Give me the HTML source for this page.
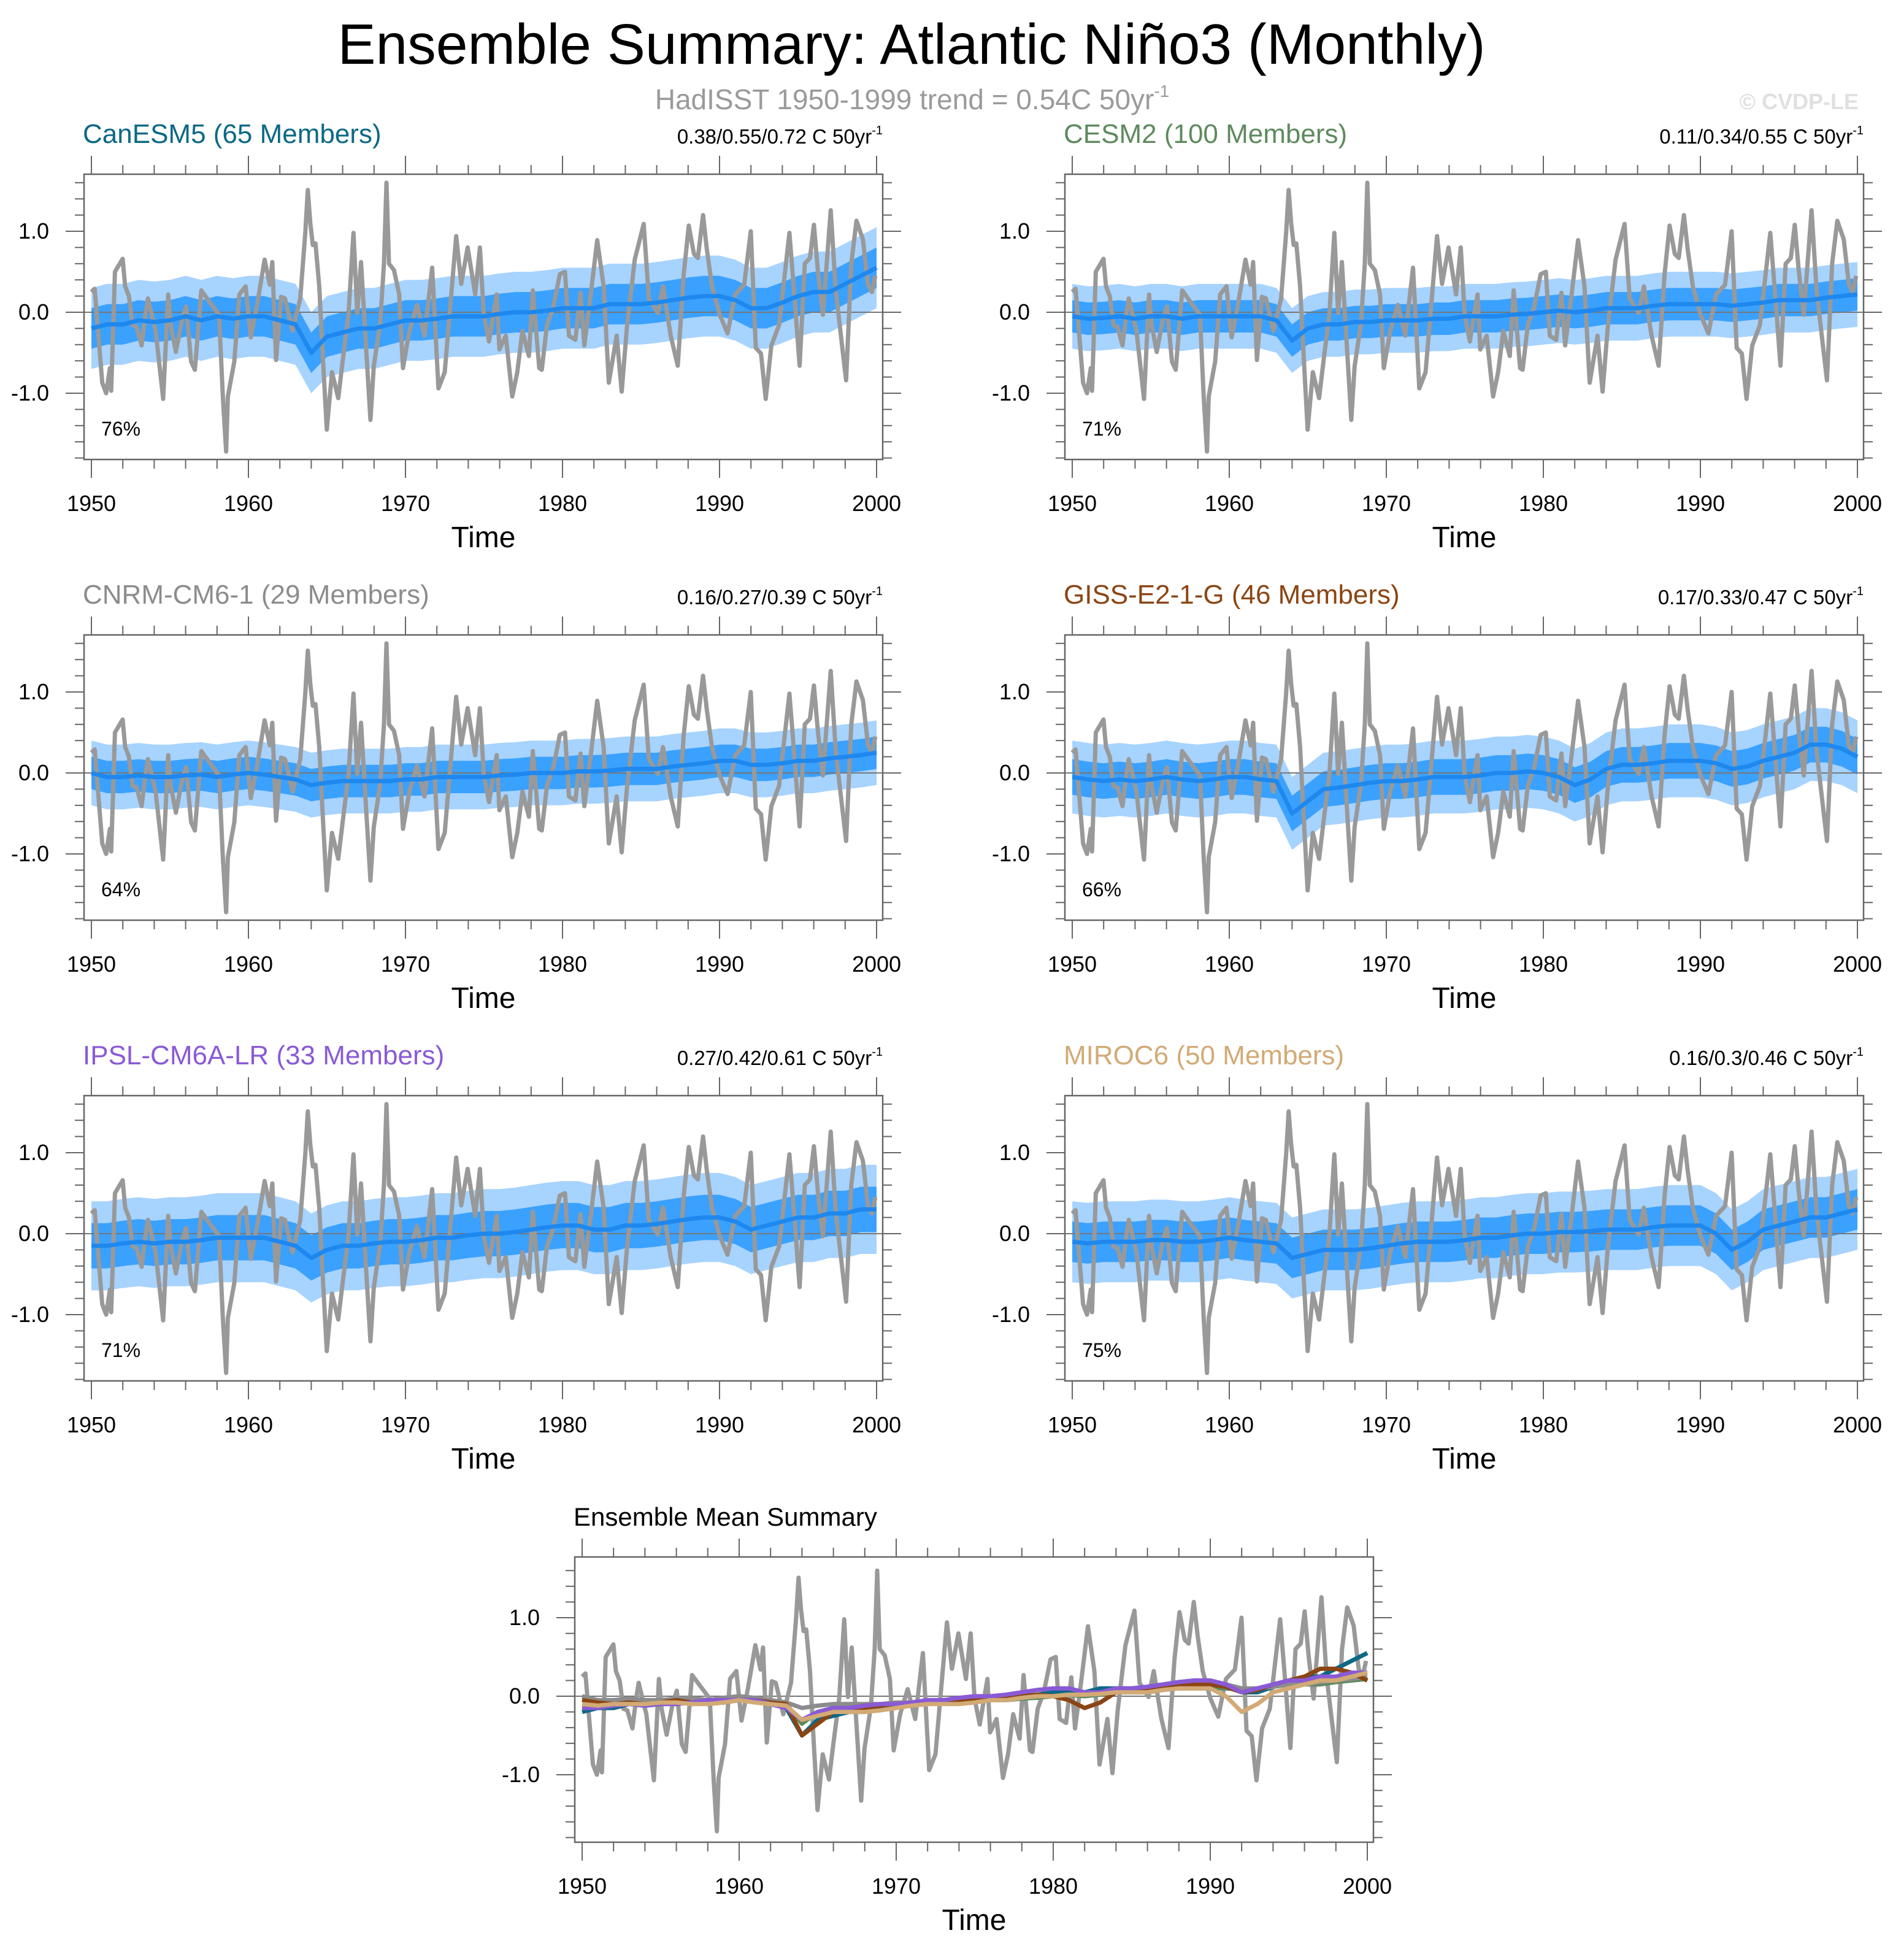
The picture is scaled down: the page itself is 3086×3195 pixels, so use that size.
<!DOCTYPE html>
<html><head><meta charset="utf-8">
<style>
html,body{margin:0;padding:0;background:#fff;}
svg{display:block;font-family:"Liberation Sans",Arial,sans-serif;}
</style></head>
<body>
<svg id="chart" width="3086" height="3195" viewBox="0 0 3086 3195" xmlns="http://www.w3.org/2000/svg">
<text x="1486" y="104" font-size="93" text-anchor="middle" fill="#000">Ensemble Summary: Atlantic Niño3 (Monthly)</text>
<text x="1487" y="178" font-size="46" text-anchor="middle" fill="#9a9a9a">HadISST 1950-1999 trend = 0.54C 50yr<tspan font-size="28" dy="-20">-1</tspan></text>
<text x="3030" y="178" font-size="36" font-weight="bold" text-anchor="end" fill="#e0e0e0">© CVDP-LE</text>
</svg>
<script>
const obsTime=[1950.00,1950.21,1950.69,1950.94,1951.18,1951.26,1951.50,1951.99,1952.15,1952.39,1952.63,1952.88,1953.20,1953.44,1953.60,1954.09,1954.57,1954.89,1955.06,1955.38,1955.78,1956.03,1956.35,1956.59,1957.00,1957.48,1958.13,1958.37,1958.58,1958.69,1959.10,1959.42,1959.82,1960.15,1960.55,1961.03,1961.36,1961.52,1961.76,1962.08,1962.33,1962.81,1963.30,1963.62,1963.78,1963.94,1964.10,1964.27,1964.51,1964.75,1964.99,1965.32,1965.72,1966.04,1966.37,1966.69,1966.93,1967.17,1967.50,1967.77,1967.98,1968.39,1968.63,1968.79,1968.95,1969.27,1969.60,1969.84,1970.25,1970.73,1971.21,1971.70,1972.10,1972.50,1973.23,1973.55,1973.96,1974.44,1974.74,1974.99,1975.32,1975.81,1975.98,1976.39,1976.80,1977.12,1977.45,1977.86,1978.11,1978.52,1978.68,1979.01,1979.42,1979.83,1980.16,1980.41,1980.82,1981.15,1981.39,1981.80,1982.21,1982.62,1982.95,1983.45,1983.77,1984.10,1984.60,1985.17,1985.50,1986.07,1986.40,1986.89,1987.34,1987.72,1988.04,1988.37,1988.62,1988.95,1989.19,1989.52,1990.01,1990.51,1991.00,1991.57,1991.99,1992.31,1992.64,1992.94,1993.30,1993.79,1994.45,1994.78,1995.10,1995.43,1995.76,1996.01,1996.26,1996.58,1997.08,1997.40,1997.73,1998.06,1998.39,1998.72,1999.13,1999.45,1999.70,1999.92];
const obsVal=[0.25,0.29,-0.87,-1.00,-0.69,-0.97,0.50,0.66,0.32,0.20,-0.16,-0.18,-0.41,-0.03,0.17,-0.23,-1.07,0.22,-0.16,-0.49,-0.08,0.07,-0.61,-0.71,0.27,0.14,-0.03,-1.04,-1.72,-1.04,-0.61,0.22,0.32,-0.31,0.09,0.65,0.34,0.62,-0.59,0.19,0.17,-0.23,0.17,0.98,1.51,1.10,0.83,0.85,0.32,-0.59,-1.45,-0.74,-1.06,-0.54,-0.03,0.98,-0.01,0.62,-0.46,-1.33,-0.67,-0.13,0.60,1.60,0.60,0.52,0.22,-0.69,-0.23,0.09,-0.29,0.55,-0.94,-0.74,0.94,0.35,0.80,0.22,0.80,-0.03,-0.36,0.22,-0.46,-0.29,-1.04,-0.74,-0.23,-0.54,0.27,-0.69,-0.71,-0.16,0.07,0.47,0.50,-0.29,-0.34,0.24,-0.41,0.22,0.89,0.32,-0.87,-0.29,-0.98,-0.19,0.65,1.09,0.17,-0.01,0.32,-0.29,-0.66,0.47,1.07,0.72,0.67,1.20,0.78,0.32,-0.03,-0.26,0.22,0.34,1.00,-0.44,-0.51,-1.07,-0.41,-0.16,0.98,0.17,-0.66,0.60,0.67,1.08,0.52,-0.03,1.26,0.27,-0.29,-0.84,0.60,1.13,0.90,0.35,0.25,0.45];
const meanYears=[1950,1951,1952,1953,1954,1955,1956,1957,1958,1959,1960,1961,1962,1963,1964,1965,1966,1967,1968,1969,1970,1971,1972,1973,1974,1975,1976,1977,1978,1979,1980,1981,1982,1983,1984,1985,1986,1987,1988,1989,1990,1991,1992,1993,1994,1995,1996,1997,1998,1999,2000];
const meanCanESM5=[-0.2,-0.15,-0.15,-0.1,-0.12,-0.1,-0.05,-0.1,-0.05,-0.08,-0.05,-0.05,-0.1,-0.15,-0.5,-0.3,-0.25,-0.2,-0.2,-0.15,-0.1,-0.1,-0.08,-0.05,-0.05,-0.05,-0.02,0,0,0.02,0.05,0.05,0.05,0.1,0.1,0.1,0.12,0.15,0.18,0.2,0.2,0.15,0.05,0.05,0.12,0.2,0.25,0.25,0.35,0.45,0.55];
const meanCESM2=[-0.05,-0.08,-0.07,-0.05,-0.08,-0.05,-0.05,-0.08,-0.05,-0.05,-0.05,-0.05,-0.05,-0.1,-0.35,-0.2,-0.15,-0.15,-0.12,-0.12,-0.1,-0.1,-0.1,-0.08,-0.08,-0.05,-0.05,-0.05,-0.03,-0.02,0,0.02,0,0.02,0.05,0.05,0.05,0.08,0.1,0.1,0.1,0.1,0.08,0.1,0.12,0.15,0.15,0.15,0.18,0.2,0.22];
const meanCNRM=[0,-0.05,-0.05,-0.03,-0.05,-0.05,-0.03,-0.02,-0.05,-0.02,0,-0.02,-0.05,-0.08,-0.15,-0.12,-0.1,-0.1,-0.1,-0.1,-0.08,-0.08,-0.05,-0.05,-0.05,-0.05,-0.03,-0.02,0,0,0,0.02,0.02,0.03,0.05,0.05,0.05,0.08,0.1,0.12,0.15,0.15,0.1,0.1,0.12,0.15,0.15,0.18,0.2,0.22,0.25];
const meanGISS=[-0.05,-0.08,-0.1,-0.08,-0.1,-0.08,-0.05,-0.08,-0.1,-0.08,-0.05,-0.05,-0.08,-0.1,-0.5,-0.35,-0.2,-0.18,-0.15,-0.12,-0.1,-0.1,-0.08,-0.05,-0.05,-0.05,-0.03,0,0,0.02,0,-0.05,-0.15,-0.08,0.05,0.1,0.1,0.12,0.15,0.15,0.15,0.12,0.05,0.08,0.15,0.2,0.25,0.35,0.35,0.3,0.2];
const meanIPSL=[-0.15,-0.15,-0.12,-0.1,-0.12,-0.1,-0.1,-0.08,-0.05,-0.05,-0.05,-0.05,-0.1,-0.15,-0.3,-0.2,-0.15,-0.15,-0.12,-0.1,-0.1,-0.08,-0.05,-0.05,-0.02,0,0,0.02,0.05,0.08,0.1,0.1,0.05,0.05,0.1,0.1,0.12,0.15,0.18,0.2,0.2,0.15,0.05,0.1,0.15,0.2,0.2,0.25,0.25,0.3,0.3];
const meanMIROC6=[-0.1,-0.12,-0.1,-0.1,-0.1,-0.08,-0.08,-0.1,-0.1,-0.08,-0.05,-0.08,-0.1,-0.12,-0.3,-0.25,-0.2,-0.2,-0.2,-0.18,-0.15,-0.12,-0.1,-0.1,-0.1,-0.08,-0.05,-0.05,-0.02,0,0,0.02,0.02,0.03,0.05,0.05,0.05,0.08,0.1,0.1,0.1,0,-0.2,-0.1,0.05,0.1,0.15,0.2,0.2,0.25,0.3];
const modelNames=["CanESM5 (65 Members)","CESM2 (100 Members)","CNRM-CM6-1 (29 Members)","GISS-E2-1-G (46 Members)","IPSL-CM6A-LR (33 Members)","MIROC6 (50 Members)"];
const modelTrends=["0.38/0.55/0.72","0.11/0.34/0.55","0.16/0.27/0.39","0.17/0.33/0.47","0.27/0.42/0.61","0.16/0.3/0.46"];
const modelPct=["76%","71%","64%","66%","71%","75%"];
const innerSpread=[0.25,0.2,0.2,0.22,0.28,0.25];
const outerSpread=[0.5,0.4,0.4,0.45,0.55,0.5];
const yTickVals=[1.0,0.0,-1.0];
const yTickLabels=["1.0","0.0","-1.0"];
const xTickVals=[1950,1960,1970,1980,1990,2000];
const xTickLabels=["1950","1960","1970","1980","1990","2000"];

const modelMeans=[meanCanESM5,meanCESM2,meanCNRM,meanGISS,meanIPSL,meanMIROC6];
const modelColors=["#0b6985","#5e8a5e","#8c8c8c","#8b4513","#8a5ad6","#d2aa76"];
const NS="http://www.w3.org/2000/svg";
const svg=document.getElementById('chart');
const BW=1302,BH=465;
function mk(tag,attrs,parent){const e=document.createElementNS(NS,tag);for(const k in attrs)e.setAttribute(k,attrs[k]);(parent||svg).appendChild(e);return e;}
function panel(bx,by,idx,title,titleColor,ppu,zoff){
  const g=mk('g',{});
  
  
  const xs=t=>bx+12+(t-1950)*(1280/50);
  const ys=v=>by+zoff-v*ppu;
  const clip=mk('clipPath',{id:'c'+idx},g);
  mk('rect',{x:bx,y:by,width:BW,height:BH},clip);
  const pg=mk('g',{'clip-path':'url(#c'+idx+')'},g);
  if(idx<6){
    const m=modelMeans[idx];
    const band=(s,col,nm)=>{
      let d='';
      meanYears.forEach((t,i)=>{d+=(i?'L':'M')+xs(t)+','+ys(m[i]+s);});
      for(let i=meanYears.length-1;i>=0;i--)d+='L'+xs(meanYears[i])+','+ys(m[i]-s);
      const p=mk('path',{d:d+'Z',fill:col},pg);
      
      
    };
    band(outerSpread[idx],'#a7d3ff','outer-spread-band');
    band(innerSpread[idx],'#3aa1ff','inner-spread-band');
  }
  const zl=mk('line',{x1:bx,x2:bx+BW,y1:ys(0),y2:ys(0),stroke:'#777','stroke-width':2},pg);
  
  
  const od=obsTime.map((t,i)=>(i?'L':'M')+xs(t)+','+ys(obsVal[i])).join('');
  const op=mk('path',{d:od,fill:'none',stroke:'#999','stroke-width':7,'stroke-linejoin':'round'},pg);
  
  
  const lines=idx<6?[[modelMeans[idx],'#1e88ee',7]]:modelMeans.map((m,i)=>[m,modelColors[i],7]);
  lines.forEach(([m,c,w],k)=>{
    const d=meanYears.map((t,i)=>(i?'L':'M')+xs(t)+','+ys(m[i])).join('');
    const p=mk('path',{d:d,fill:'none',stroke:c,'stroke-width':w,'stroke-linejoin':'round'},pg);
    
    
  });
  const fr=mk('rect',{x:bx,y:by,width:BW,height:BH,fill:'none',stroke:'#666','stroke-width':2.5},g);
  
  
  for(let t=1950;t<=2000;t+=2){
    const maj=(t%10===0),L=maj?30:15;
    mk('line',{x1:xs(t),x2:xs(t),y1:by,y2:by-L,stroke:'#666','stroke-width':2},g);
    mk('line',{x1:xs(t),x2:xs(t),y1:by+BH,y2:by+BH+L,stroke:'#666','stroke-width':2},g);
  }
  for(let k=-9;k<=9;k++){
    const v=k*0.2;const y=ys(v);if(y<by||y>by+BH)continue;
    const maj=(k%5===0),L=maj?30:15;
    mk('line',{x1:bx,x2:bx-L,y1:y,y2:y,stroke:'#666','stroke-width':2},g);
    mk('line',{x1:bx+BW,x2:bx+BW+L,y1:y,y2:y,stroke:'#666','stroke-width':2},g);
  }
  xTickVals.forEach((t,i)=>{
    const tx=mk('text',{x:xs(t),y:by+BH+84,'font-size':36,'text-anchor':'middle',fill:'#000'},g);
    tx.textContent=xTickLabels[i];
    
    
  });
  yTickVals.forEach((v,i)=>{
    const tx=mk('text',{x:bx-57,y:ys(v)+12,'font-size':36,'text-anchor':'end',fill:'#000'},g);
    tx.textContent=yTickLabels[i];
    
    
  });
  const xt=mk('text',{x:bx+BW/2,y:by+608,'font-size':48,'text-anchor':'middle',fill:'#000'},g);
  xt.textContent='Time';
  
  
  const tt=mk('text',{x:bx-2,y:by-51,'font-size':idx<6?44:42,fill:titleColor},g);
  tt.textContent=title;
  
  
  if(idx<6){
    const tr=mk('text',{x:bx+BW,y:by-50,'font-size':33,'text-anchor':'end',fill:'#000'},g);
    tr.textContent=modelTrends[idx]+' C 50yr';
    const sp=mk('tspan',{'font-size':20,dy:-15},tr);
    sp.textContent='-1';
    
    
    const pc=mk('text',{x:bx+28,y:by+426,'font-size':32,fill:'#000'},g);
    pc.textContent=modelPct[idx];
    
    
  }
}
const rowTops=[284,1035,1786];
for(let i=0;i<6;i++){
  const col=i%2,row=Math.floor(i/2);
  panel(col?1736:137,rowTops[row],i,modelNames[i],modelColors[i],132,225);
}
panel(937,2538,6,'Ensemble Mean Summary','#000',128,227);
</script>
</body></html>
